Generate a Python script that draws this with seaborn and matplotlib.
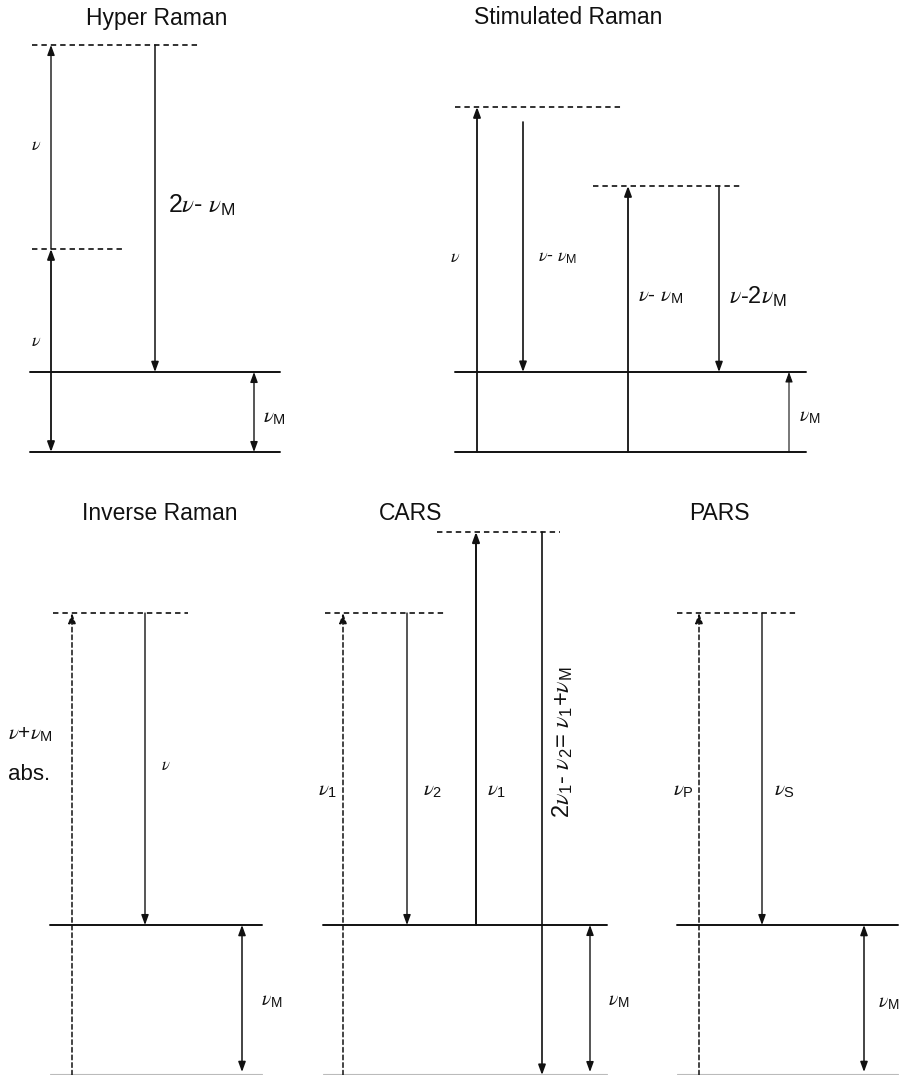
import matplotlib
matplotlib.use("Agg")
import matplotlib.pyplot as plt
import seaborn as sns

sns.set_theme(style="white")
plt.rcParams['font.family'] = ['Liberation Sans', 'DejaVu Sans']
plt.rcParams['mathtext.fontset'] = 'custom'
plt.rcParams['mathtext.rm'] = 'Liberation Sans'
plt.rcParams['mathtext.it'] = 'STIXGeneral:italic'
plt.rcParams['mathtext.sf'] = 'Liberation Sans'

# ---- diagram content (pixel layout of an energy-level scheme) ----
titles = ["Hyper Raman", "Stimulated Raman", "Inverse Raman", "CARS", "PARS"]
title_x = [157, 568, 160, 411, 719]
title_y = [18, 18, 514, 514, 514]

# levels: y, x0, x1, style ('solid' real level, 'dash' virtual level)
level_y = [45, 249, 372, 452,
           107, 186, 372, 452,
           613, 925, 1074,
           532, 613, 925, 1074,
           613, 925, 1074]
level_x0 = [32, 32, 30, 30,
            455, 593, 455, 455,
            53, 50, 50,
            437, 325, 323, 323,
            677, 677, 677]
level_x1 = [198, 125, 280, 280,
            622, 740, 806, 806,
            188, 262, 262,
            560, 447, 607, 607,
            797, 898, 898]
level_style = ['dash', 'dash', 'solid', 'solid',
               'dash', 'dash', 'solid', 'solid',
               'dash', 'solid', 'faint',
               'dash', 'dash', 'solid', 'faint',
               'dash', 'solid', 'faint']

# arrows: x, start y, end y, line style, head type
arrow_x = [51, 51, 155, 254,
           477, 523, 628, 719, 789,
           72, 145, 242,
           343, 407, 476, 542, 590,
           699, 762, 864]
arrow_y0 = [452, 249, 45, 372,
            452, 122, 452, 186, 452,
            1075, 613, 925,
            1075, 613, 925, 532, 925,
            1075, 613, 925]
arrow_y1 = [249, 45, 372, 452,
            107, 372, 186, 372, 372,
            613, 925, 1072,
            613, 925, 532, 1075, 1072,
            613, 925, 1072]
arrow_ls = ['solid', 'solid', 'solid', 'solid',
            'solid', 'solid', 'solid', 'solid', 'solid',
            'dash', 'solid', 'solid',
            'dash', 'solid', 'solid', 'solid', 'solid',
            'dash', 'solid', 'solid']
arrow_head = ['<|-|>', '-|>', '-|>', '<|-|>',
              '-|>', '-|>', '-|>', '-|>', '-|>',
              '-|>', '-|>', '<|-|>',
              '-|>', '-|>', '-|>', '-|>', '<|-|>',
              '-|>', '-|>', '<|-|>']
arrow_lw = [1.3, 1.0, 1.1, 1.0,
            1.3, 1.2, 1.3, 1.1, 0.8,
            1.1, 1.0, 1.1,
            1.1, 1.0, 1.4, 1.2, 1.0,
            1.1, 1.0, 1.1]

# labels: text, x, y, rotation, size
label_text = [r"$\nu$", r"$\nu$", r"$2\nu$- $\nu_\mathrm{M}$", r"$\nu_\mathrm{M}$",
              r"$\nu$", r"$\nu$- $\nu_\mathrm{M}$", r"$\nu$- $\nu_\mathrm{M}$",
              r"$\nu$-$2\nu_\mathrm{M}$", r"$\nu_\mathrm{M}$",
              r"$\nu$+$\nu_\mathrm{M}$", "abs.", r"$\nu$", r"$\nu_\mathrm{M}$",
              r"$\nu_1$", r"$\nu_2$", r"$\nu_1$",
              r"$2\nu_1$- $\nu_2$= $\nu_1$+$\nu_\mathrm{M}$", r"$\nu_\mathrm{M}$",
              r"$\nu_\mathrm{P}$", r"$\nu_\mathrm{S}$", r"$\nu_\mathrm{M}$"]
label_x = [31, 31, 168, 263,
           450, 538, 638, 729, 799,
           8, 8, 161, 261,
           318, 423, 487, 563, 608,
           673, 774, 878]
label_y = [146, 342, 205, 418,
           258, 258, 297, 297, 418,
           735, 774, 766, 1002,
           791, 791, 791, 742, 1002,
           791, 791, 1003]
label_rot = [0, 0, 0, 0,
             0, 0, 0, 0, 0,
             0, 0, 0, 0,
             0, 0, 0, 90, 0,
             0, 0, 0]
label_size = [13, 13, 18, 15,
              13, 13, 15, 17, 14,
              15, 16, 12, 14,
              15, 15, 15, 17, 14,
              15, 15, 14]

# ---- drawing ----
fig = plt.figure(figsize=(9.06, 10.75), dpi=100)
ax = fig.add_axes([0, 0, 1, 1])
ax.set_xlim(0, 906)
ax.set_ylim(1075, 0)
ax.axis('off')

for y, x0, x1, st in zip(level_y, level_x0, level_x1, level_style):
    if st == 'dash':
        ax.plot([x0, x1], [y, y], color='#222222', lw=1.3, ls=(0, (3, 2.2)))
    elif st == 'faint':
        ax.plot([x0, x1], [y, y], color='#bbbbbb', lw=0.8)
    else:
        ax.plot([x0, x1], [y, y], color='#111111', lw=1.4)

for x, y0, y1, ls, hd, lw in zip(arrow_x, arrow_y0, arrow_y1, arrow_ls, arrow_head, arrow_lw):
    style = hd + ",head_length=0.6,head_width=0.22"
    ax.annotate("", xy=(x, y1), xytext=(x, y0),
                arrowprops=dict(arrowstyle=style, color='#111111', lw=lw,
                                linestyle=(0, (3, 2)) if ls == 'dash' else '-',
                                shrinkA=0, shrinkB=0, mutation_scale=10))

for t, x, y, r, s in zip(label_text, label_x, label_y, label_rot, label_size):
    if r:
        ax.text(x, y, t, rotation=r, fontsize=s, ha='center', va='center', color='#111111')
    else:
        ax.text(x, y, t, fontsize=s, ha='left', va='center', color='#111111')

for t, x, y in zip(titles, title_x, title_y):
    ax.text(x, y, t, fontsize=16.5, ha='center', va='center', color='#111111')

fig.savefig("out.png", dpi=100)
